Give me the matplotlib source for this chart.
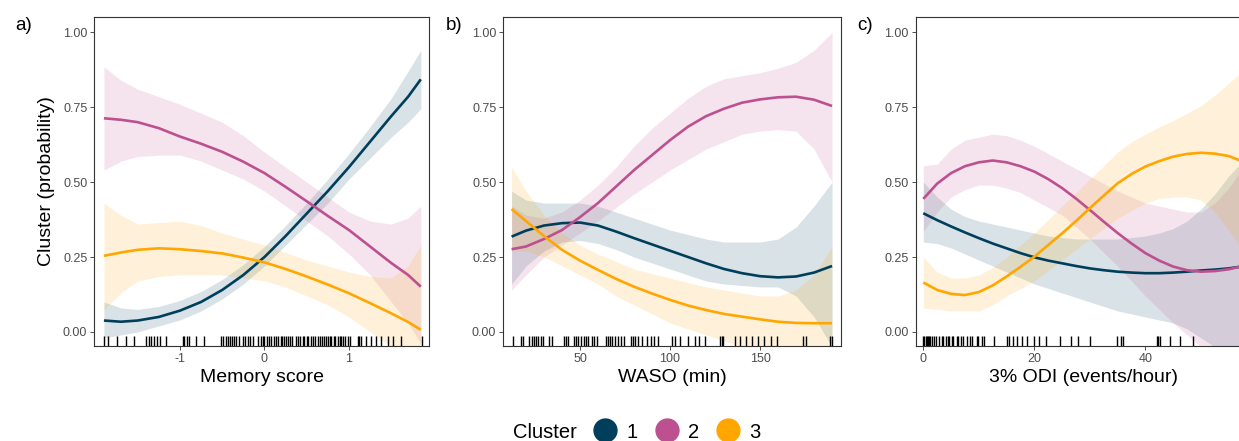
import numpy as np
import matplotlib
matplotlib.use("Agg")
import matplotlib.pyplot as plt
from matplotlib.lines import Line2D
import matplotlib.transforms as mtransforms

# colours for the three clusters
pal = ["#003f5c", "#bc5090", "#ffa600"]
cluster_names = ["1", "2", "3"]

# ---- panel a: Memory score ----
mem_x = [-1.9, -1.7, -1.5, -1.25, -1.0, -0.75, -0.5, -0.25, 0.0, 0.25, 0.5, 0.75, 1.0, 1.25, 1.5, 1.7, 1.85]
mem_c1 = [0.038, 0.034, 0.038, 0.050, 0.071, 0.10, 0.14, 0.19, 0.25, 0.32, 0.395, 0.47, 0.55, 0.635, 0.72, 0.785, 0.843]
mem_c1_lo = [-0.02, -0.01, 0.0, 0.02, 0.04, 0.07, 0.11, 0.16, 0.22, 0.29, 0.36, 0.43, 0.51, 0.58, 0.65, 0.70, 0.745]
mem_c1_hi = [0.10, 0.08, 0.075, 0.085, 0.105, 0.135, 0.175, 0.225, 0.285, 0.355, 0.43, 0.51, 0.595, 0.685, 0.78, 0.87, 0.94]
mem_c2 = [0.713, 0.708, 0.70, 0.68, 0.652, 0.628, 0.601, 0.568, 0.53, 0.484, 0.436, 0.387, 0.34, 0.285, 0.23, 0.19, 0.151]
mem_c2_lo = [0.54, 0.57, 0.585, 0.59, 0.59, 0.57, 0.54, 0.51, 0.47, 0.42, 0.37, 0.32, 0.26, 0.19, 0.10, 0.03, -0.04]
mem_c2_hi = [0.885, 0.84, 0.81, 0.785, 0.76, 0.73, 0.70, 0.655, 0.60, 0.55, 0.50, 0.45, 0.40, 0.37, 0.36, 0.38, 0.42]
mem_c3 = [0.254, 0.265, 0.274, 0.279, 0.276, 0.27, 0.262, 0.248, 0.232, 0.21, 0.185, 0.158, 0.129, 0.096, 0.062, 0.033, 0.007]
mem_c3_lo = [0.073, 0.13, 0.17, 0.185, 0.19, 0.19, 0.19, 0.18, 0.17, 0.15, 0.12, 0.09, 0.05, 0.0, -0.05, -0.05, -0.05]
mem_c3_hi = [0.43, 0.39, 0.36, 0.365, 0.37, 0.355, 0.33, 0.31, 0.29, 0.265, 0.24, 0.22, 0.20, 0.185, 0.18, 0.22, 0.29]
mem_rug = [-1.90, -1.85, -1.74, -1.64, -1.54, -1.40, -1.37, -1.34, -1.31, -1.27, -1.24, -1.17,
           -0.97, -0.95, -0.92, -0.89, -0.81, -0.72, -0.52, -0.49, -0.46, -0.43, -0.41, -0.39,
           -0.36, -0.34, -0.30, -0.26, -0.23, -0.20, -0.17, -0.13, -0.08, -0.04, -0.02, 0.00,
           0.03, 0.05, 0.08, 0.11, 0.14, 0.16, 0.19, 0.21, 0.23, 0.25, 0.28, 0.30, 0.33, 0.37,
           0.40, 0.42, 0.45, 0.47, 0.50, 0.52, 0.55, 0.58, 0.60, 0.63, 0.66, 0.68, 0.71, 0.73,
           0.75, 0.77, 0.79, 0.82, 0.84, 0.87, 0.89, 0.91, 0.93, 0.95, 0.99, 1.01, 1.11, 1.12,
           1.14, 1.20, 1.26, 1.32, 1.38, 1.46, 1.52, 1.62, 1.86]

# ---- panel b: WASO ----
waso_x = [12, 20, 30, 40, 50, 60, 70, 80, 90, 100, 110, 120, 130, 140, 150, 160, 170, 180, 190]
waso_c1 = [0.318, 0.338, 0.355, 0.363, 0.365, 0.355, 0.335, 0.313, 0.292, 0.271, 0.25, 0.229, 0.21, 0.196, 0.186, 0.182, 0.185, 0.198, 0.22]
waso_c1_lo = [0.16, 0.22, 0.27, 0.30, 0.305, 0.295, 0.275, 0.25, 0.23, 0.21, 0.19, 0.17, 0.16, 0.155, 0.15, 0.15, 0.12, 0.05, -0.05]
waso_c1_hi = [0.47, 0.44, 0.43, 0.43, 0.43, 0.42, 0.40, 0.38, 0.36, 0.34, 0.325, 0.31, 0.30, 0.30, 0.30, 0.31, 0.35, 0.42, 0.50]
waso_c2 = [0.276, 0.285, 0.31, 0.34, 0.383, 0.43, 0.485, 0.54, 0.59, 0.64, 0.685, 0.72, 0.745, 0.765, 0.776, 0.783, 0.785, 0.775, 0.754]
waso_c2_lo = [0.14, 0.19, 0.25, 0.29, 0.33, 0.37, 0.415, 0.46, 0.50, 0.54, 0.575, 0.61, 0.635, 0.66, 0.67, 0.675, 0.67, 0.61, 0.50]
waso_c2_hi = [0.42, 0.39, 0.38, 0.40, 0.44, 0.49, 0.55, 0.62, 0.68, 0.73, 0.78, 0.82, 0.845, 0.855, 0.865, 0.88, 0.90, 0.94, 1.0]
waso_c3 = [0.41, 0.37, 0.32, 0.274, 0.238, 0.207, 0.177, 0.151, 0.128, 0.107, 0.088, 0.073, 0.06, 0.051, 0.042, 0.034, 0.03, 0.029, 0.029]
waso_c3_lo = [0.27, 0.27, 0.25, 0.22, 0.19, 0.16, 0.12, 0.09, 0.06, 0.03, 0.01, -0.01, -0.03, -0.05, -0.05, -0.05, -0.05, -0.05, -0.05]
waso_c3_hi = [0.55, 0.47, 0.39, 0.33, 0.29, 0.26, 0.235, 0.21, 0.195, 0.18, 0.165, 0.15, 0.14, 0.13, 0.12, 0.12, 0.14, 0.19, 0.285]
waso_rug = [12.6, 17.1, 18.5, 21.9, 23.1, 24.4, 25.6, 26.9, 28.1, 29.3, 33.0, 34.3, 41.1, 42.2,
            43.5, 46.7, 47.8, 49.1, 50.6, 52.2, 53.3, 54.6, 56.5, 57.8, 59.6, 64.4, 65.7, 66.7,
            68.0, 69.4, 71.3, 72.6, 74.4, 78.1, 79.3, 80.6, 82.4, 84.3, 87.4, 89.3, 91.1, 93.5,
            100.9, 102.8, 105.6, 110.2, 113.9, 116.1, 119.4, 127.8, 128.7, 129.6, 136.1, 138.9,
            142.2, 145.4, 149.1, 152.4, 155.9, 159.6, 174.1, 175.6, 188.9, 190.2]

# ---- panel c: 3% ODI ----
odi_x = [0, 2.5, 5, 7.5, 10, 12.5, 15, 17.5, 20, 22.5, 25, 27.5, 30, 32.5, 35, 37.5, 40, 42.5, 45, 47.5, 50, 52.5, 55, 58]
odi_c1 = [0.396, 0.373, 0.352, 0.332, 0.313, 0.295, 0.279, 0.263, 0.249, 0.238, 0.229, 0.22, 0.212, 0.206, 0.201, 0.198, 0.196, 0.196, 0.198, 0.201, 0.205, 0.208, 0.212, 0.22]
odi_c1_lo = [0.30, 0.295, 0.28, 0.26, 0.24, 0.22, 0.20, 0.18, 0.16, 0.145, 0.13, 0.115, 0.10, 0.085, 0.07, 0.06, 0.05, 0.04, 0.03, 0.01, -0.02, -0.05, -0.05, -0.05]
odi_c1_hi = [0.50, 0.45, 0.41, 0.385, 0.37, 0.36, 0.35, 0.34, 0.33, 0.32, 0.315, 0.31, 0.31, 0.31, 0.31, 0.315, 0.32, 0.33, 0.345, 0.37, 0.41, 0.46, 0.52, 0.58]
odi_c2 = [0.444, 0.495, 0.53, 0.553, 0.566, 0.572, 0.566, 0.553, 0.535, 0.51, 0.48, 0.445, 0.407, 0.368, 0.33, 0.295, 0.263, 0.238, 0.218, 0.206, 0.201, 0.203, 0.209, 0.222]
odi_c2_lo = [0.335, 0.40, 0.45, 0.475, 0.49, 0.49, 0.48, 0.465, 0.44, 0.415, 0.39, 0.35, 0.31, 0.265, 0.22, 0.17, 0.12, 0.075, 0.03, -0.01, -0.05, -0.05, -0.05, -0.05]
odi_c2_hi = [0.555, 0.56, 0.61, 0.64, 0.65, 0.66, 0.655, 0.64, 0.62, 0.595, 0.57, 0.545, 0.52, 0.495, 0.47, 0.45, 0.43, 0.42, 0.41, 0.40, 0.40, 0.43, 0.48, 0.56]
odi_c3 = [0.165, 0.14, 0.127, 0.123, 0.133, 0.155, 0.185, 0.217, 0.251, 0.29, 0.329, 0.37, 0.413, 0.455, 0.496, 0.527, 0.552, 0.57, 0.585, 0.594, 0.598, 0.595, 0.587, 0.565]
odi_c3_lo = [0.08, 0.075, 0.07, 0.07, 0.07, 0.09, 0.12, 0.145, 0.17, 0.205, 0.24, 0.275, 0.31, 0.345, 0.38, 0.405, 0.43, 0.445, 0.45, 0.45, 0.44, 0.40, 0.34, 0.26]
odi_c3_hi = [0.25, 0.20, 0.18, 0.18, 0.19, 0.215, 0.25, 0.29, 0.33, 0.375, 0.42, 0.465, 0.51, 0.555, 0.60, 0.635, 0.66, 0.685, 0.705, 0.73, 0.755, 0.79, 0.83, 0.88]
odi_rug = [0.0, 0.18, 0.42, 0.6, 0.78, 1.0, 1.2, 1.5, 1.9, 2.3, 2.9, 3.3, 3.6, 4.0, 4.4, 4.7,
           5.1, 5.4, 6.0, 6.3, 6.7, 7.2, 7.9, 8.4, 8.7, 9.6, 9.9, 10.5, 10.9, 12.7, 15.0, 15.5,
           16.2, 16.9, 17.8, 18.7, 19.9, 20.9, 22.1, 24.6, 26.6, 27.9, 30.0, 34.8, 35.6, 36.0,
           42.0, 42.3, 42.6, 44.4, 46.2, 48.5]

yticks = [0, 0.25, 0.5, 0.75, 1.0]
ytick_labels = ["0.00", "0.25", "0.50", "0.75", "1.00"]

plt.rcParams['font.family'] = ['Liberation Sans', 'DejaVu Sans']
plt.rcParams['axes.unicode_minus'] = False

W, H = 1239, 441
fig = plt.figure(figsize=(W / 100, H / 100), dpi=100)


def px_axes(left, right, top=17, bottom=346):
    return fig.add_axes([left / W, 1 - bottom / H, (right - left) / W, (bottom - top) / H])


panels = [
    dict(ax=px_axes(94.3, 429), x=mem_x, xlim=(-2.014, 1.947), xticks=[-1, 0, 1],
         fits=[(mem_c1, mem_c1_lo, mem_c1_hi), (mem_c2, mem_c2_lo, mem_c2_hi), (mem_c3, mem_c3_lo, mem_c3_hi)],
         rug=mem_rug, xlabel="Memory score", tag="a)", tagx=15),
    dict(ax=px_axes(503.3, 840.7), x=waso_x, xlim=(7.4, 194.8), xticks=[50, 100, 150],
         fits=[(waso_c1, waso_c1_lo, waso_c1_hi), (waso_c2, waso_c2_lo, waso_c2_hi), (waso_c3, waso_c3_lo, waso_c3_hi)],
         rug=waso_rug, xlabel="WASO (min)", tag="b)", tagx=446),
    dict(ax=px_axes(915.7, 1252), x=odi_x, xlim=(-1.37, 59.2), xticks=[0, 20, 40],
         fits=[(odi_c1, odi_c1_lo, odi_c1_hi), (odi_c2, odi_c2_lo, odi_c2_hi), (odi_c3, odi_c3_lo, odi_c3_hi)],
         rug=odi_rug, xlabel="3% ODI (events/hour)", tag="c)", tagx=857),
]

for p in panels:
    ax = p['ax']
    # ribbons first, then lines on top
    for col, (fit, lo, hi) in zip(pal, p['fits']):
        ax.fill_between(p['x'], lo, hi, color=col, alpha=0.15, linewidth=0)
    for col, (fit, lo, hi) in zip(pal, p['fits']):
        ax.plot(p['x'], fit, color=col, linewidth=1.9, solid_capstyle='butt', solid_joinstyle='round')
    # rug along the bottom
    trans = mtransforms.blended_transform_factory(ax.transData, ax.transAxes)
    ax.vlines(p['rug'], 0, 0.03, transform=trans, color='black', linewidth=1.0)

    ax.set_xlim(*p['xlim'])
    ax.set_ylim(-0.047, 1.051)
    ax.set_xticks(p['xticks'])
    ax.set_xticklabels([str(t) for t in p['xticks']])
    ax.set_yticks(yticks)
    ax.set_yticklabels(ytick_labels)
    ax.tick_params(length=3, width=0.6, color='#333333', labelsize=9, labelcolor='#4d4d4d', pad=2)
    for s in ax.spines.values():
        s.set_color('#333333')
        s.set_linewidth(0.8)
    ax.set_xlabel(p['xlabel'], fontsize=14, va='center')
    ax.xaxis.set_label_coords(0.5, -(378 - 346) / 329)
    fig.text(p['tagx'] / W, 1 - 26 / H, p['tag'], fontsize=13.5, va='center', ha='left')

ax0 = panels[0]['ax']
ax0.set_ylabel("Cluster (probability)", fontsize=14, va='center')
ax0.yaxis.set_label_coords((47 - 94.3) / 334, 0.5)

# legend at the bottom, title on the left like ggplot
ly = 1 - 432 / H
fig.text(513 / W, ly, "Cluster", fontsize=14.5, va='center', ha='left')
handles = [Line2D([], [], linestyle='none', marker='o', markersize=16.5, color=c) for c in pal]
fig.legend(handles, cluster_names, loc='center left', bbox_to_anchor=(593 / W, ly),
           ncol=3, frameon=False, fontsize=14.5, borderpad=0, borderaxespad=0,
           handlelength=1.2, handletextpad=0.45, columnspacing=0.85)

fig.savefig("out.png", dpi=100)
